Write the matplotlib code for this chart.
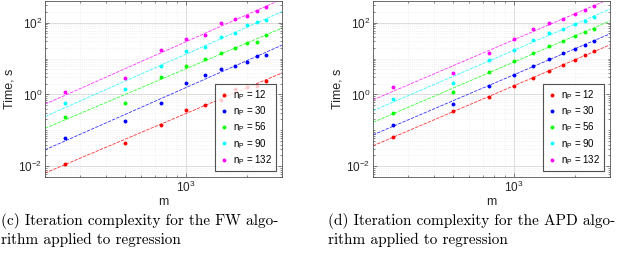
import numpy as np
import matplotlib
matplotlib.use('Agg')
import matplotlib.pyplot as plt
from matplotlib.ticker import LogLocator, NullFormatter, FixedLocator

# Problem sizes m (same for both panels)
m = [250, 500, 750, 1000, 1250, 1500, 1750, 2000, 2250, 2500]
n_p = [12, 30, 56, 90, 132]
colors = ['#ff0000', '#0000ff', '#00ff00', '#00ffff', '#ff00ff']

# Time, s - FW algorithm
fw_12 = [0.0117, 0.0445, 0.143, 0.370, 0.508, 0.70, 1.43, 1.59, 1.70, 2.33]
fw_30 = [0.0598, 0.184, 0.577, 2.10, 3.56, 5.21, 6.05, 8.13, 11.4, 12.2]
fw_56 = [0.237, 0.565, 3.07, 6.05, 9.64, 14.7, 20.2, 27.2, 29.0, 46.2]
fw_90 = [0.565, 1.46, 6.05, 15.7, 20.6, 39.8, 51.3, 85.3, 105, 117]
fw_132 = [1.18, 2.82, 17.4, 35.8, 45.2, 96.8, 125, 151, 212, 273]

# Time, s - APD algorithm
apd_12 = [0.0638, 0.340, 0.844, 1.70, 2.88, 4.59, 6.72, 9.24, 12.2, 15.7]
apd_30 = [0.140, 0.553, 1.77, 3.56, 6.31, 9.64, 14.1, 18.6, 23.9, 30.2]
apd_56 = [0.312, 1.18, 4.13, 8.31, 14.7, 23.0, 30.9, 42.5, 53.6, 67.6]
apd_90 = [0.728, 2.10, 9.04, 17.4, 32.2, 50.2, 67.6, 91.0, 112, 145]
apd_132 = [1.63, 3.96, 14.1, 35.8, 67.6, 94.8, 130, 179, 231, 285]

fw = [fw_12, fw_30, fw_56, fw_90, fw_132]
apd = [apd_12, apd_30, apd_56, apd_90, apd_132]

captions = ['(c) Iteration complexity for the FW algo-\nrithm applied to regression',
            '(d) Iteration complexity for the APD algo-\nrithm applied to regression']

plt.rcParams['font.family'] = ['Liberation Sans', 'DejaVu Sans']
plt.rcParams['mathtext.fontset'] = 'custom'
plt.rcParams['mathtext.rm'] = 'Liberation Sans'
plt.rcParams['mathtext.it'] = 'Liberation Sans'

fig = plt.figure(figsize=(6.4, 2.63), dpi=100)
W, H = 640.0, 263.0
x_lim = (200, 3000)
y_lim = (5e-3, 400)
edge = '#555555'


def draw_panel(ax, data):
    lm = np.log10(m)
    xs = np.array(x_lim)
    for vals, c, n in zip(data, colors, n_p):
        k, b = np.polyfit(lm, np.log10(vals), 1)
        ax.plot(xs, 10 ** (k * np.log10(xs) + b), '--', color=c, lw=0.6,
                dashes=(4, 1.5), alpha=0.8)
        ax.plot(m, vals, 'o', color=c, ms=2.8, mew=0,
                label=r'$\mathregular{n_P}$ = %d' % n)
    ax.set_xscale('log')
    ax.set_yscale('log')
    ax.set_xlim(*x_lim)
    ax.set_ylim(*y_lim)
    ax.xaxis.set_major_locator(FixedLocator([1000]))
    ax.xaxis.set_minor_locator(LogLocator(base=10, subs=np.arange(2, 10)))
    ax.xaxis.set_minor_formatter(NullFormatter())
    ax.yaxis.set_major_locator(FixedLocator([1e-2, 1, 1e2]))
    ax.yaxis.set_minor_locator(LogLocator(base=10, subs=np.arange(1, 10), numticks=20))
    ax.yaxis.set_minor_formatter(NullFormatter())
    ax.grid(True, which='major', color='#d8d8d8', lw=0.6)
    ax.grid(True, which='minor', color='#e8e8e8', lw=0.5, ls=':')
    ax.set_axisbelow(True)
    ax.tick_params(which='both', direction='in', top=True, right=True,
                   colors=edge, labelcolor='#262626', labelsize=8.5, pad=2)
    ax.tick_params(which='major', length=3, width=0.5)
    ax.tick_params(which='minor', length=1.5, width=0.5)
    for s in ax.spines.values():
        s.set_color(edge)
        s.set_linewidth(0.6)
    ax.set_xlabel('m', fontsize=9, color='#262626', labelpad=1)
    ax.set_ylabel('Time, s', fontsize=9, color='#262626', labelpad=2)
    leg = ax.legend(loc='lower right', fontsize=7, frameon=True, fancybox=False,
                    edgecolor='#262626', borderaxespad=0.6, labelspacing=0.25,
                    handletextpad=0.4, handlelength=1.0, markerscale=1.0,
                    borderpad=0.45)
    leg.get_frame().set_linewidth(0.8)


ax1 = fig.add_axes([45 / W, 86 / H, 237 / W, 176 / H])
draw_panel(ax1, fw)
ax2 = fig.add_axes([373 / W, 86 / H, 237 / W, 176 / H])
draw_panel(ax2, apd)

fig.text(1 / W, 1 - 213 / H, captions[0], family='cmr10', fontsize=11,
         va='top', ha='left', linespacing=1.35)
fig.text(328 / W, 1 - 213 / H, captions[1], family='cmr10', fontsize=11,
         va='top', ha='left', linespacing=1.35)

fig.savefig('out.png', dpi=100)
